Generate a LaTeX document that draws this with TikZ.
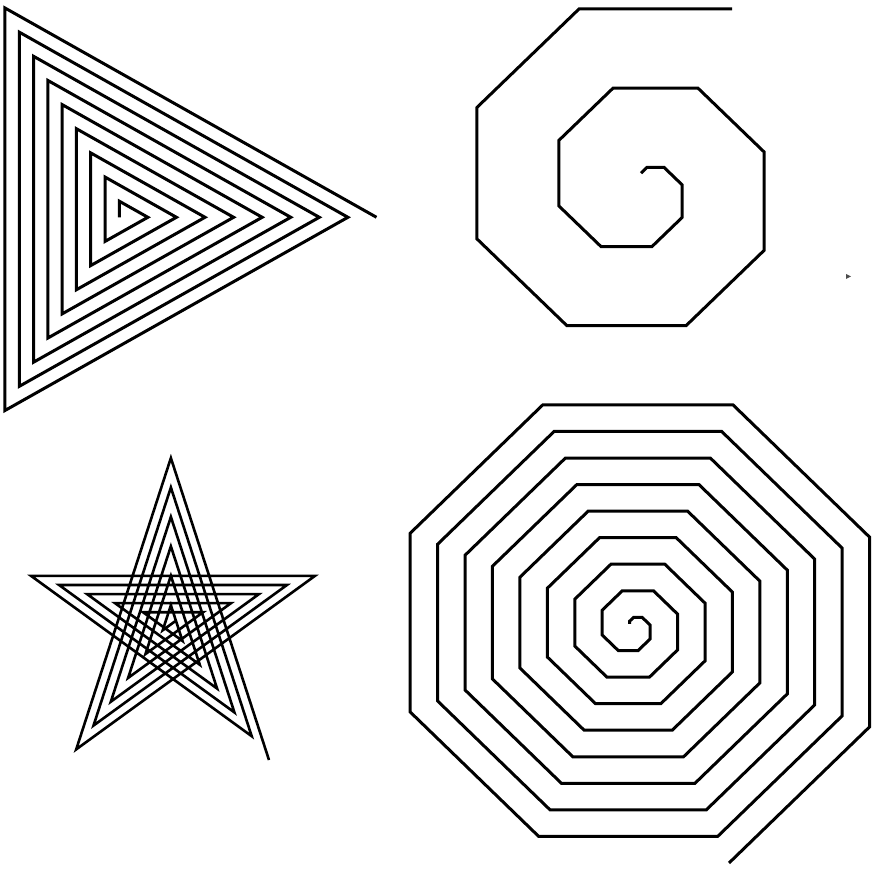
\documentclass[tikz,border=0pt]{standalone}
\begin{document}
\begin{tikzpicture}[spiral/.style={draw=black,line width=3pt,line join=miter}]
\useasboundingbox (0pt,0pt) rectangle (872pt,870pt);
% triangular spiral (top left)
\draw[spiral,x=16.5pt,y=16.1pt] (376.5pt,652.7pt)
  \foreach \k in {0,...,25}{ -- ++({150+120*\k}:{26-\k}) };
% small octagonal spiral (top right)
\draw[spiral,x=8.5pt,y=8.2pt] (732pt,861pt)
  \foreach \k in {0,...,17}{ -- ++({180+45*\k}:{18-\k}) };
% star spiral (bottom left)
\draw[spiral,line width=2.6pt,x=11.2pt,y=11.2pt] (269pt,110pt)
  \foreach \k in {0,...,27}{ -- ++({108+144*\k}:{28.35-\k}) };
% large octagonal spiral (bottom right)
\draw[spiral,x=2.84pt,y=2.75pt] (729pt,7pt)
  \foreach \k in {0,...,69}{ -- ++({45+45*\k}:{70-\k}) };
% speck
\fill[black!70] (846pt,591pt) -- (846pt,596pt) -- (851pt,593.5pt) -- cycle;
\end{tikzpicture}
\end{document}
